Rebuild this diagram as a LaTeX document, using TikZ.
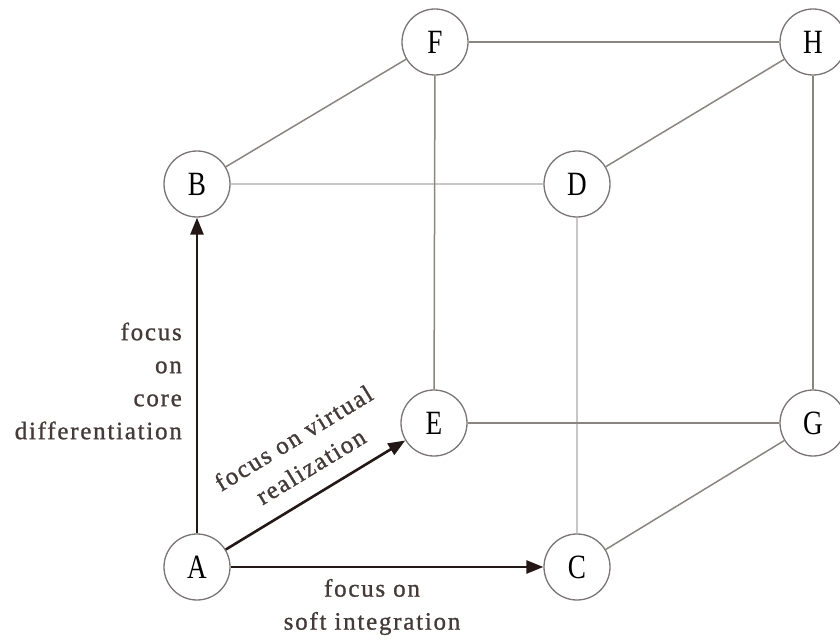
\documentclass[tikz,border=0pt]{standalone}
\usepackage{fontspec}
\setmainfont{Liberation Serif}
\newfontfamily\tracked[LetterSpace=7,FakeBold=1]{Liberation Serif}
\usetikzlibrary{arrows.meta}
\definecolor{ink}{HTML}{231815}
\definecolor{edge}{HTML}{8A8482}
\definecolor{faint}{HTML}{C8C6C6}
\definecolor{ring}{HTML}{7A7474}
\begin{document}
\begin{tikzpicture}[x=1pt,y=-1pt,
  vertex/.style={circle,draw=ring,line width=1.3pt,fill=white,minimum size=66pt,inner sep=0pt,
    font=\fontsize{34}{34}\selectfont},
  cube/.style={draw=edge,line width=1.5pt},
  back/.style={draw=faint,line width=1.5pt},
  move/.style={draw=ink,line width=2.6pt,-{Triangle[length=17pt,width=13pt]}},
  caption/.style={font=\tracked\fontsize{25}{33}\selectfont,text=ink!85,inner sep=0pt}]
\useasboundingbox (0,0) rectangle (840,644);
% vertices of the cube
\node[vertex] (A) at (197,567) {\scalebox{0.8}[1]{A}};
\node[vertex] (B) at (197,184) {\scalebox{0.8}[1]{B}};
\node[vertex] (C) at (577,567) {\scalebox{0.8}[1]{C}};
\node[vertex] (D) at (577,184) {\scalebox{0.8}[1]{D}};
\node[vertex] (E) at (434,423) {\scalebox{0.8}[1]{E}};
\node[vertex] (F) at (435,42)  {\scalebox{0.8}[1]{F}};
\node[vertex] (G) at (813,423) {\scalebox{0.8}[1]{G}};
\node[vertex] (H) at (813,42)  {\scalebox{0.8}[1]{H}};
% cube edges
\draw[back] (B) -- (D);
\draw[back] (D) -- (C);
\draw[cube] (B) -- (F);
\draw[cube] (F) -- (H);
\draw[cube] (H) -- (D);
\draw[cube] (F) -- (E);
\draw[cube] (H) -- (G);
\draw[cube] (E) -- (G);
\draw[cube] (G) -- (C);
% strategic moves from A
\draw[move] (A) -- (B);
\draw[move] (A) -- (E);
\draw[move] (A) -- (C);
% captions
\node[caption,align=right,anchor=east] (lc) at (182,381) {focus\\on\\core\\differentiation};
\node[caption,align=center] (ls) at (372,607) {focus on\\soft integration};
\node[caption,align=center,rotate=31.3] (lv) at (302,452) {focus on virtual\\realization};
\end{tikzpicture}
\end{document}
